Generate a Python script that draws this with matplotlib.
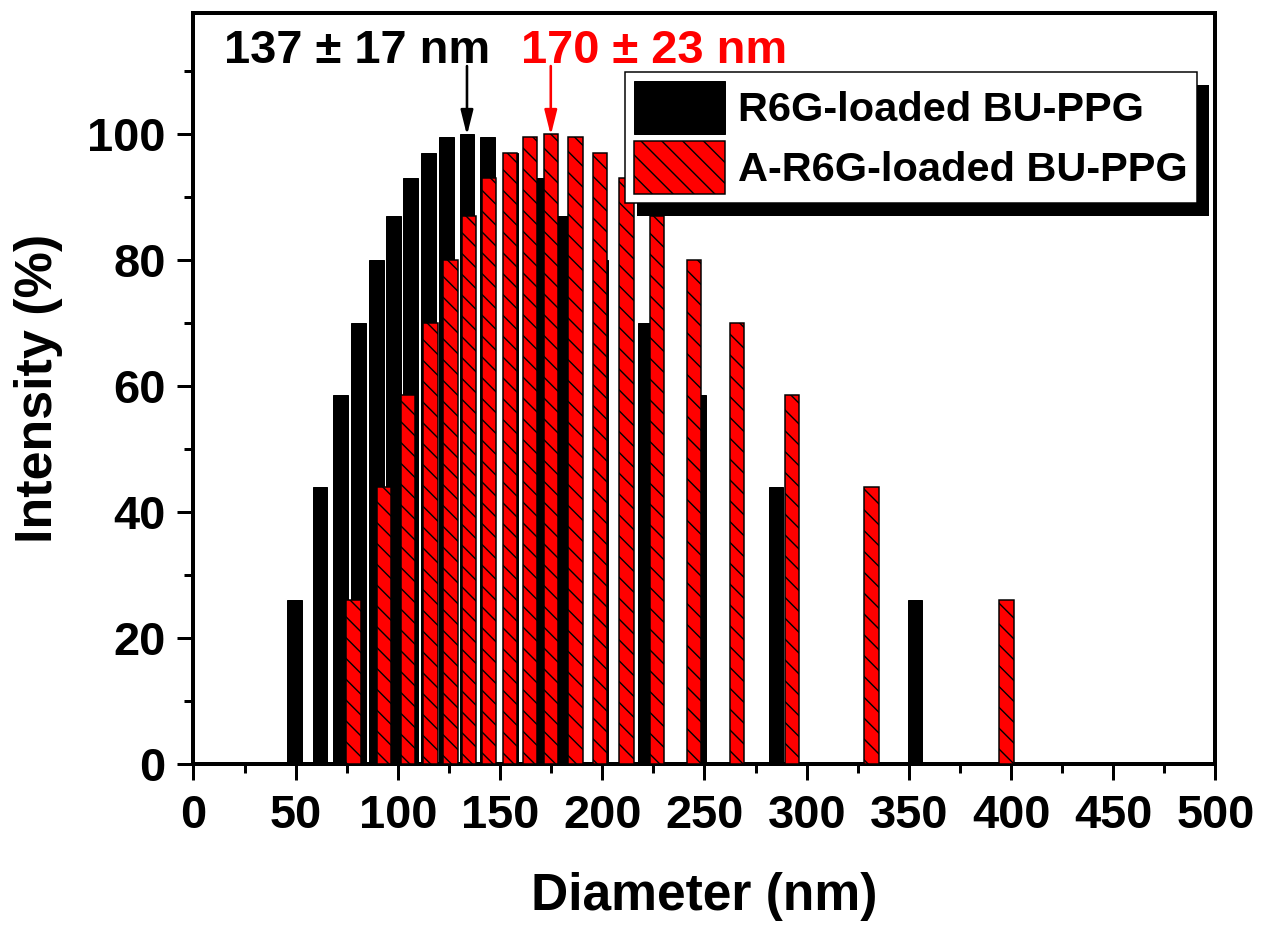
import matplotlib
matplotlib.use('Agg')
import matplotlib.pyplot as plt
from matplotlib.patches import Rectangle
from matplotlib.ticker import MultipleLocator

# size bins (nm) and intensities (%)
black_x = [49.5, 61.9, 71.9, 80.8, 89.4, 97.8, 106.2, 115.1, 124.0, 133.8,
           144.0, 155.0, 167.5, 179.5, 199.0, 221.0, 247.0, 285.0, 353.0]
black_int = [26, 44, 58.5, 70, 80, 87, 93, 97, 99.5, 100,
             99.5, 97, 93, 87, 80, 70, 58.5, 44, 26]

red_x = [78.3, 93.1, 104.9, 115.9, 125.7, 134.9, 144.6, 155.0, 164.7, 174.8,
         186.9, 198.8, 211.8, 226.8, 244.8, 266.0, 292.9, 331.7, 397.7]
red_int = [26, 44, 58.5, 70, 80, 87, 93, 97, 99.5, 100,
           99.5, 97, 93, 87, 80, 70, 58.5, 44, 26]

labels = ['R6G-loaded BU-PPG', 'A-R6G-loaded BU-PPG']
peak_text = ['137 ± 17 nm', '170 ± 23 nm']
peak_x = [133.8, 174.8]

DPI = 125


def px(v):
    # pixels -> points
    return v * 72.0 / DPI


plt.rcParams['font.family'] = ['Liberation Sans', 'DejaVu Sans']
plt.rcParams['font.weight'] = 'bold'
plt.rcParams['axes.labelweight'] = 'bold'
plt.rcParams['hatch.linewidth'] = px(1.4)
plt.rcParams['hatch.color'] = 'black'

fig = plt.figure(figsize=(1265 / DPI, 928 / DPI), dpi=DPI)
ax = fig.add_axes([0.15296, 0.17672, 0.8079, 0.80981])

ax.bar(black_x, black_int, width=7.3, color='black', edgecolor='black',
       linewidth=px(1), label=labels[0], zorder=2)
ax.bar(red_x, red_int, width=7.0, color='#ff0000', edgecolor='black',
       linewidth=px(1.5), hatch='\\\\', label=labels[1], zorder=3)

ax.set_xlim(0, 500)
ax.set_ylim(0, 119.3)
ax.xaxis.set_major_locator(MultipleLocator(50))
ax.xaxis.set_minor_locator(MultipleLocator(25))
ax.yaxis.set_major_locator(MultipleLocator(20))
ax.yaxis.set_minor_locator(MultipleLocator(10))

for s in ax.spines.values():
    s.set_linewidth(px(4))
ax.tick_params(which='major', direction='out', length=px(16), width=px(3),
               labelsize=px(47), top=False, right=False)
ax.tick_params(axis='x', which='major', pad=px(14))
ax.tick_params(axis='y', which='major', pad=px(12))
ax.tick_params(which='minor', direction='out', length=px(9), width=px(3),
               top=False, right=False)

ax.set_xlabel('Diameter (nm)', fontsize=px(51.5), fontweight='bold')
ax.xaxis.set_label_coords(0.5, -0.144)
ax.set_ylabel('Intensity (%)', fontsize=px(52), fontweight='bold')
ax.yaxis.set_label_coords(-0.128, 0.5)

# mean size annotations
ax.text(80.0, 111.3, peak_text[0], ha='center', va='baseline',
        fontsize=px(47), color='black')
ax.text(225.5, 111.3, peak_text[1], ha='center', va='baseline',
        fontsize=px(47), color='#ff0000')
for xx, c in zip(peak_x, ['black', '#ff0000']):
    ax.annotate('', xy=(xx, 99.8), xytext=(xx, 110.8),
                arrowprops=dict(arrowstyle='-|>,head_length=0.6,head_width=0.15',
                                mutation_scale=20, lw=px(2.6), color=c,
                                shrinkA=0, shrinkB=0))

leg = ax.legend(loc='upper left', bbox_to_anchor=(0.422, 0.921),
                borderaxespad=0, fontsize=px(41.5), handlelength=2.2,
                handleheight=1.6, handletextpad=0.3, labelspacing=0.15,
                borderpad=0.22, fancybox=False, edgecolor='black',
                framealpha=1, shadow=False)
leg.get_frame().set_linewidth(px(1.5))

# solid drop shadow behind the legend box
fig.canvas.draw()
bb = leg.get_window_extent().transformed(ax.transAxes.inverted())
dx = 12 / 1022.0
dy = 13 / 751.5
shadow = Rectangle((bb.x0 + dx, bb.y0 - dy), bb.width, bb.height,
                   transform=ax.transAxes, facecolor='black',
                   edgecolor='none', zorder=4.9)
ax.add_artist(shadow)

fig.savefig('out.png', dpi=DPI)
